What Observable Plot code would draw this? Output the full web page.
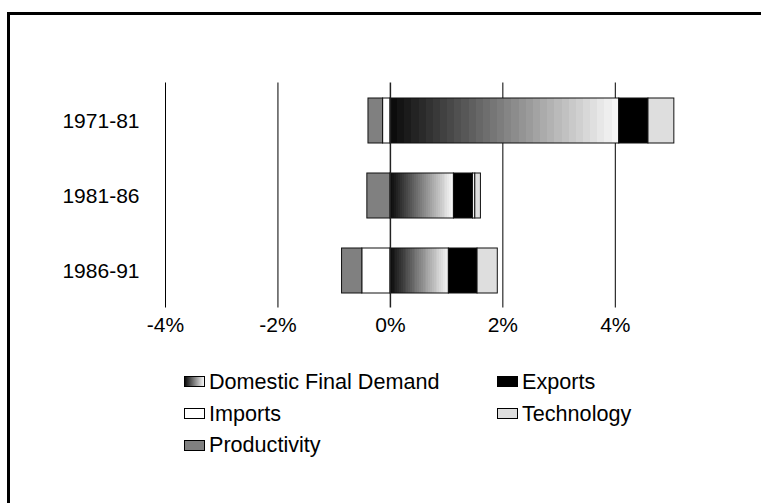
<!DOCTYPE html>
<html>
<head>
<meta charset="utf-8">
<script src="https://cdn.jsdelivr.net/npm/d3@7"></script>
<script src="https://cdn.jsdelivr.net/npm/@observablehq/plot@0.6"></script>
<style>
  html, body { margin: 0; padding: 0; background: #fff; overflow: hidden; width: 761px; height: 503px; }
  body { position: relative; font-family: Arial, "Liberation Sans", sans-serif; color: #000; }
  #edgeTop { position: absolute; left: 7px; top: 12px; width: 754px; height: 3px; background: #000; }
  #edgeLeft { position: absolute; left: 7px; top: 12px; width: 3px; height: 491px; background: #000; }
  #chart { position: absolute; left: 0; top: 0; }
  #legend { position: absolute; left: 184px; top: 366px; display: grid; grid-template-columns: 313px auto; }
  .item { display: flex; align-items: center; height: 31.7px; font-size: 21.6px; white-space: nowrap; }
  .sw { width: 21px; height: 11px; border: 1px solid #000; box-sizing: border-box; margin-right: 4px; }
</style>
</head>
<body>
<div id="edgeTop"></div>
<div id="edgeLeft"></div>
<div id="chart"></div>
<div id="legend"></div>
<script>
// Periods (categories) and contributions to growth, in percentage points
const periods = ["1971-81", "1981-86", "1986-91"];
const series = ["Domestic Final Demand", "Exports", "Imports", "Technology", "Productivity"];
const domesticFinalDemand = [4.07, 1.13, 1.04];
const exportsValues = [0.52, 0.34, 0.51];
const importsValues = [-0.13, 0.04, -0.50];
const technology = [0.46, 0.10, 0.36];
const productivity = [-0.26, -0.41, -0.36];
const xTicks = [-4, -2, 0, 2, 4];

const seriesValues = [domesticFinalDemand, exportsValues, importsValues, technology, productivity];
const seriesFills = ["url(#dfdGrad)", "#000000", "#ffffff", "#dedede", "#808080"];
const legendFills = [
  "linear-gradient(to right, #0c0c0c, #f6f6f6)",
  "#000000", "#ffffff", "#dedede", "#808080"
];

const rows = periods.flatMap((p, i) =>
  series.map((s, j) => ({period: p, series: s, value: seriesValues[j][i]}))
);

const font = 'Arial, "Liberation Sans", sans-serif';

const chart = Plot.plot({
  width: 761,
  height: 345,
  marginTop: 82.5,
  marginBottom: 37.5,
  marginLeft: 165,
  marginRight: 33.75,
  style: {fontFamily: font, fontSize: "21px", color: "#000", background: "transparent"},
  x: {domain: [-4, 6], axis: null, label: null},
  y: {domain: periods, paddingInner: 0.4, paddingOuter: 0.2, axis: null, label: null},
  color: {domain: series, range: seriesFills},
  marks: [
    Plot.ruleX(xTicks.filter(d => d !== 0), {stroke: "#000", strokeWidth: 1}),
    Plot.barX(rows, Plot.stackX({
      y: "period",
      x: "value",
      fill: "series",
      stroke: "#111",
      strokeWidth: 1
    })),
    Plot.ruleX([0], {stroke: "#222", strokeWidth: 1.5}),
    Plot.axisX({ticks: xTicks, tickSize: 0, tickPadding: 9, tickFormat: d => `${d}%`, fill: "#000", label: null}),
    Plot.axisY({tickSize: 0, tickPadding: 26, fill: "#000", label: null})
  ]
});

// Banded horizontal gradient for the domestic demand segments
const defs = d3.select(chart).insert("defs", ":first-child");
const grad = defs.append("linearGradient")
  .attr("id", "dfdGrad")
  .attr("x1", "0").attr("x2", "1").attr("y1", "0").attr("y2", "0");
const bands = 32;
for (let i = 0; i < bands; i++) {
  const g = Math.round(12 + (i / (bands - 1)) * (246 - 12));
  const c = `rgb(${g},${g},${g})`;
  grad.append("stop").attr("offset", i / bands).attr("stop-color", c);
  grad.append("stop").attr("offset", (i + 1) / bands).attr("stop-color", c);
}

document.getElementById("chart").appendChild(chart);

// Legend, filled row by row in two columns
const legend = d3.select("#legend");
series.forEach((s, i) => {
  const item = legend.append("div").attr("class", "item");
  item.append("div").attr("class", "sw").style("background", legendFills[i]);
  item.append("span").text(s);
});
</script>
</body>
</html>
